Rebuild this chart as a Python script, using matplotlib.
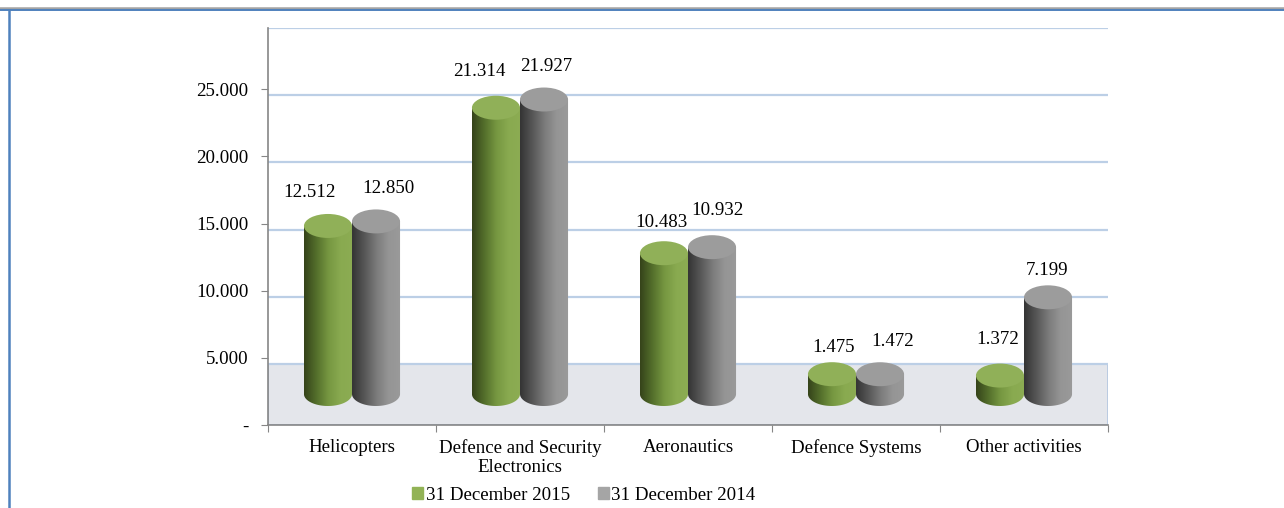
import matplotlib.pyplot as plt
import numpy as np
from matplotlib.colors import LinearSegmentedColormap
from matplotlib.lines import Line2D
from matplotlib.patches import Ellipse, PathPatch, Rectangle
from matplotlib.path import Path

plt.rcParams['font.family'] = ['Liberation Serif', 'DejaVu Serif']

categories = ["Helicopters", "Defence and Security\nElectronics", "Aeronautics",
              "Defence Systems", "Other activities"]
dec_2015 = [12512, 21314, 10483, 1475, 1372]
dec_2014 = [12850, 21927, 10932, 1472, 7199]
series_names = ["31 December 2015", "31 December 2014"]
y_ticks = [0, 5000, 10000, 15000, 20000, 25000]

# 3d look: back wall grid sits a bit lower than the front ticks,
# cylinders stand in the middle of the floor
grid_shift = 446
base = 2308
cap = 893          # half height of the elliptic caps, in value units
width = 0.286
fs = 13.6

# value label nudges in pixels (x, y above the cap centre)
nudge_2015 = [(-19, 33), (-17, 36), (-3, 31), (2, 27), (-2, 36)]
nudge_2014 = [(12, 33), (2, 33), (5, 37), (13, 33), (-1, 27)]

green_side = LinearSegmentedColormap.from_list(
    "g", ["#35431a", "#536e2b", "#769741", "#89aa50", "#8cac53"])
gray_side = LinearSegmentedColormap.from_list(
    "k", ["#343434", "#565656", "#7b7b7b", "#959595", "#9a9a9a"])
green_top = "#90b058"
gray_top = "#9c9c9c"


def fmt(v):
    return f"{v:,}".replace(",", ".")


def cylinder(ax, xc, value, cmap, top_color):
    x0, x1 = xc - width / 2, xc + width / 2
    top = base + value
    t = np.linspace(np.pi, 2 * np.pi, 60)
    arc = np.column_stack([xc + width / 2 * np.cos(t), base + cap * np.sin(t)])
    verts = np.vstack([[x0, top], arc, [x1, top], [x0, top]])
    outline = PathPatch(Path(verts, closed=True), facecolor="none",
                        edgecolor="none", transform=ax.transData)
    ax.add_patch(outline)
    grad = np.linspace(0, 1, 256).reshape(1, -1)
    im = ax.imshow(grad, cmap=cmap, aspect="auto", interpolation="bilinear",
                   extent=[x0, x1, base - cap, top], zorder=3)
    im.set_clip_path(outline)
    ax.add_patch(Ellipse((xc, top), width, 2 * cap, facecolor=top_color,
                         edgecolor="none", zorder=4))
    return top


def value_label(ax, v, xc, top, nudge):
    ax.annotate(fmt(v), (xc, top), xytext=(nudge[0] * 0.72, nudge[1] * 0.72),
                textcoords="offset points", ha="center", va="center",
                fontsize=fs, zorder=5)


fig = plt.figure(figsize=(12.84, 5.08), dpi=100)
ax = fig.add_axes([268 / 1284, 1 - 425 / 508, 840 / 1284, 397 / 508])
ax.set_xlim(0, 5)
ax.set_ylim(0, 29560)

# floor
ax.add_patch(Rectangle((0, 0), 5, 5000 - grid_shift, facecolor="#e4e6eb",
                       edgecolor="#b3c6df", lw=1.2, zorder=1))
for g in range(5000, 30001, 5000):
    ax.axhline(g - grid_shift, color="#bccfe6", lw=1.6, zorder=1.5)

x = np.arange(len(categories)) + 0.5
for i in range(len(categories)):
    t1 = cylinder(ax, x[i] - width / 2, dec_2015[i], green_side, green_top)
    t2 = cylinder(ax, x[i] + width / 2, dec_2014[i], gray_side, gray_top)
    value_label(ax, dec_2015[i], x[i] - width / 2, t1, nudge_2015[i])
    value_label(ax, dec_2014[i], x[i] + width / 2, t2, nudge_2014[i])

for s in ["top", "right"]:
    ax.spines[s].set_visible(False)
for s in ["left", "bottom"]:
    ax.spines[s].set_color("#868686")
    ax.spines[s].set_linewidth(1.2)
    ax.spines[s].set_zorder(2)

ax.set_yticks(y_ticks)
ax.set_yticklabels(["-"] + [fmt(v) for v in y_ticks[1:]])
ax.tick_params(axis="y", direction="out", length=5, color="#868686",
               labelsize=fs, pad=9)
ax.set_xticks(np.arange(0, 6))
ax.set_xticklabels([])
ax.tick_params(axis="x", which="major", direction="out", length=5,
               color="#868686")
ax.set_xticks(x, minor=True)
ax.set_xticklabels(categories, minor=True, fontsize=fs, linespacing=1.2)
ax.tick_params(axis="x", which="minor", length=0, pad=10)

handles = [Rectangle((0, 0), 1, 1, color="#92b356"),
           Rectangle((0, 0), 1, 1, color="#a5a5a5")]
fig.legend(handles, series_names, loc="center", ncol=2,
           bbox_to_anchor=(584 / 1284, 1 - 495 / 508), frameon=False,
           fontsize=fs, handlelength=0.55, handleheight=0.55,
           handletextpad=0.15, columnspacing=1.5)

# outer frame
fig.add_artist(Line2D([0, 1], [1 - 8 / 508] * 2, color="#a3a3a3", lw=1.8))
fig.add_artist(Line2D([0, 1], [1 - 10 / 508] * 2, color="#4f81bd", lw=1.4))
fig.add_artist(Line2D([9 / 1284] * 2, [0, 1 - 10 / 508], color="#4f81bd", lw=1.8))

fig.savefig("out.png", dpi=100)
